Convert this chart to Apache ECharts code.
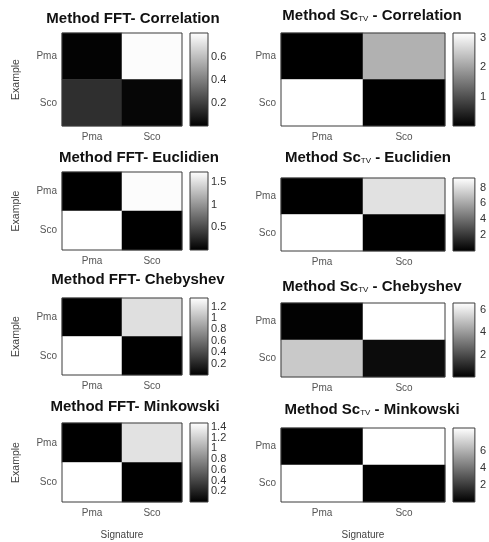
<!DOCTYPE html>
<html>
<head>
<meta charset="utf-8">
<script src="https://cdn.jsdelivr.net/npm/echarts@6/dist/echarts.min.js"></script>
<style>
html,body{margin:0;padding:0;background:#fff;}
#c{width:489px;height:542px;}
</style>
</head>
<body>
<div id="c"></div>
<script>
// Categories (signature on x, example on y)
const categories = ['Pma', 'Sco'];

// Matrices: rows = Example [Pma, Sco], columns = Signature [Pma, Sco]
const fftCorrelation = [[0.01, 0.80], [0.15, 0.02]];
const fftEuclidien   = [[0.00, 1.70], [1.72, 0.00]];
const fftChebyshev   = [[0.00, 1.18], [1.35, 0.00]];
const fftMinkowski   = [[0.00, 1.30], [1.47, 0.00]];
const tvCorrelation  = [[0.00, 2.20], [3.17, 0.00]];
const tvEuclidien    = [[0.00, 8.10], [9.20, 0.00]];
const tvChebyshev    = [[0.05, 6.60], [5.20, 0.30]];
const tvMinkowski    = [[0.00, 8.70], [8.70, 0.00]];

// Colour-bar ranges [min, max]
const fftCorrelationRange = [0, 0.81];
const fftEuclidienRange   = [0, 1.72];
const fftChebyshevRange   = [0, 1.35];
const fftMinkowskiRange   = [0, 1.47];
const tvCorrelationRange  = [0, 3.17];
const tvEuclidienRange    = [0, 9.2];
const tvChebyshevRange    = [0, 6.6];
const tvMinkowskiRange    = [0, 8.7];

// Colour-bar tick labels
const fftCorrelationTicks = [0.2, 0.4, 0.6];
const fftEuclidienTicks   = [0.5, 1, 1.5];
const fftChebyshevTicks   = [0.2, 0.4, 0.6, 0.8, 1, 1.2];
const fftMinkowskiTicks   = [0.2, 0.4, 0.6, 0.8, 1, 1.2, 1.4];
const tvCorrelationTicks  = [1, 2, 3];
const tvEuclidienTicks    = [2, 4, 6, 8];
const tvChebyshevTicks    = [2, 4, 6];
const tvMinkowskiTicks    = [2, 4, 6];

// Titles
const metricNames = ['Correlation', 'Euclidien', 'Chebyshev', 'Minkowski'];

const panels = [
  {m: fftCorrelation, r: fftCorrelationRange, t: fftCorrelationTicks, iv: 0.2, title: 'Method FFT- ' + metricNames[0], tv: false,
   g: {left: 62, top: 33, width: 120, height: 93}, cb: {left: 190, width: 18}, tx: 133, ty: 19, yname: true, xname: false},
  {m: fftEuclidien, r: fftEuclidienRange, t: fftEuclidienTicks, iv: 0.5, title: 'Method FFT- ' + metricNames[1], tv: false,
   g: {left: 62, top: 172, width: 120, height: 78}, cb: {left: 190, width: 18}, tx: 139, ty: 158, yname: true, xname: false},
  {m: fftChebyshev, r: fftChebyshevRange, t: fftChebyshevTicks, iv: 0.2, title: 'Method FFT- ' + metricNames[2], tv: false,
   g: {left: 62, top: 298, width: 120, height: 77}, cb: {left: 190, width: 18}, tx: 138, ty: 280, yname: true, xname: false},
  {m: fftMinkowski, r: fftMinkowskiRange, t: fftMinkowskiTicks, iv: 0.2, title: 'Method FFT- ' + metricNames[3], tv: false,
   g: {left: 62, top: 423, width: 120, height: 79}, cb: {left: 190, width: 18}, tx: 135, ty: 407, yname: true, xname: true},
  {m: tvCorrelation, r: tvCorrelationRange, t: tvCorrelationTicks, iv: 1, title: metricNames[0], tv: true,
   g: {left: 281, top: 33, width: 164, height: 93}, cb: {left: 453, width: 29}, tx: 372, ty: 16, yname: false, xname: false},
  {m: tvEuclidien, r: tvEuclidienRange, t: tvEuclidienTicks, iv: 2, title: metricNames[1], tv: true,
   g: {left: 281, top: 178, width: 164, height: 73}, cb: {left: 453, width: 29}, tx: 368, ty: 158, yname: false, xname: false},
  {m: tvChebyshev, r: tvChebyshevRange, t: tvChebyshevTicks, iv: 2, title: metricNames[2], tv: true,
   g: {left: 281, top: 303, width: 164, height: 74}, cb: {left: 453, width: 29}, tx: 372, ty: 287, yname: false, xname: false},
  {m: tvMinkowski, r: tvMinkowskiRange, t: tvMinkowskiTicks, iv: 2, title: metricNames[3], tv: true,
   g: {left: 281, top: 428, width: 164, height: 74}, cb: {left: 453, width: 29}, tx: 372, ty: 410, yname: false, xname: true}
];

const FONT = 'Liberation Sans, Arial, sans-serif';
const frameColor = '#3a3a3a';

const grid = [], xAxis = [], yAxis = [], series = [], visualMap = [], graphic = [];

panels.forEach((p, i) => {
  grid.push({left: p.g.left, top: p.g.top, width: p.g.width, height: p.g.height,
    show: true, borderColor: frameColor, borderWidth: 1, backgroundColor: 'transparent', z: 10});
  xAxis.push({
    type: 'category', data: categories, gridIndex: i,
    axisLine: {show: false},
    axisTick: {show: true, inside: true, length: 2, alignWithLabel: true, lineStyle: {color: '#222'}},
    axisLabel: {fontSize: 10, color: '#555', fontFamily: FONT, margin: 6},
    splitLine: {show: false}, splitArea: {show: false},
    name: p.xname ? 'Signature' : '', nameLocation: 'middle', nameGap: 28,
    nameTextStyle: {fontSize: 10, color: '#444', fontFamily: FONT}
  });
  yAxis.push({
    type: 'category', data: categories, gridIndex: i, inverse: true,
    axisLine: {show: false},
    axisTick: {show: true, inside: true, length: 2, alignWithLabel: true, lineStyle: {color: '#222'}},
    axisLabel: {fontSize: 10, color: '#555', fontFamily: FONT, margin: 5},
    splitLine: {show: false}, splitArea: {show: false},
    name: p.yname ? 'Example' : '', nameLocation: 'middle', nameRotate: 90, nameGap: 40,
    nameTextStyle: {fontSize: 10.5, color: '#444', fontFamily: FONT}
  });
  const data = [];
  for (let r = 0; r < 2; r++) for (let c = 0; c < 2; c++) data.push([c, r, p.m[r][c]]);
  series.push({type: 'heatmap', xAxisIndex: i, yAxisIndex: i, data: data, silent: true, animation: false});
  visualMap.push({type: 'continuous', show: false, seriesIndex: i, min: p.r[0], max: p.r[1],
    inRange: {color: ['#000000', '#ffffff']}});

  // title
  let txt;
  if (p.tv) {
    txt = '{a|Method Sc}{s|TV}{a| - ' + p.title + '}';
  } else {
    txt = '{a|' + p.title + '}';
  }
  graphic.push({type: 'text', x: p.tx, y: p.ty, style: {
    text: txt, align: 'center', verticalAlign: 'middle',
    rich: {
      a: {fontSize: 15, fontWeight: 'bold', fontFamily: FONT, fill: '#111', color: '#111', lineHeight: 17},
      s: {fontSize: 8, fontFamily: FONT, fill: '#111', color: '#111', lineHeight: 17, padding: [6, 0, 0, 0]}
    }
  }});
});

// colour bars
panels.forEach((p, i) => {
  const gi = 8 + i;
  grid.push({left: p.cb.left, top: p.g.top, width: p.cb.width, height: p.g.height,
    show: true, borderColor: frameColor, borderWidth: 1, backgroundColor: 'transparent', z: 10});
  xAxis.push({type: 'category', data: [''], gridIndex: gi, show: false});
  const ticks = p.t;
  yAxis.push({
    type: 'value', gridIndex: gi, position: 'right', min: p.r[0], max: p.r[1], interval: p.iv,
    axisLine: {show: false}, axisTick: {show: false}, splitLine: {show: false},
    axisLabel: {fontSize: 11, color: '#333', fontFamily: FONT, margin: p.tv ? 5 : 3,
      showMinLabel: true, showMaxLabel: true,
      formatter: function (v) {
        const rv = Math.round(v * 100) / 100;
        return ticks.some(t => Math.abs(t - rv) < 1e-6) ? String(rv) : '';
      }}
  });
  series.push({type: 'bar', xAxisIndex: gi, yAxisIndex: gi, data: [p.r[1]], barWidth: '100%', silent: true,
    animation: false,
    itemStyle: {color: new echarts.graphic.LinearGradient(0, 0, 0, 1, [
      {offset: 0, color: '#ffffff'}, {offset: 1, color: '#000000'}])}});
});

const chart = echarts.init(document.getElementById('c'), null, {renderer: 'canvas'});
chart.setOption({
  backgroundColor: '#ffffff',
  animation: false,
  grid: grid, xAxis: xAxis, yAxis: yAxis, visualMap: visualMap, series: series, graphic: graphic
});
</script>
</body>
</html>
